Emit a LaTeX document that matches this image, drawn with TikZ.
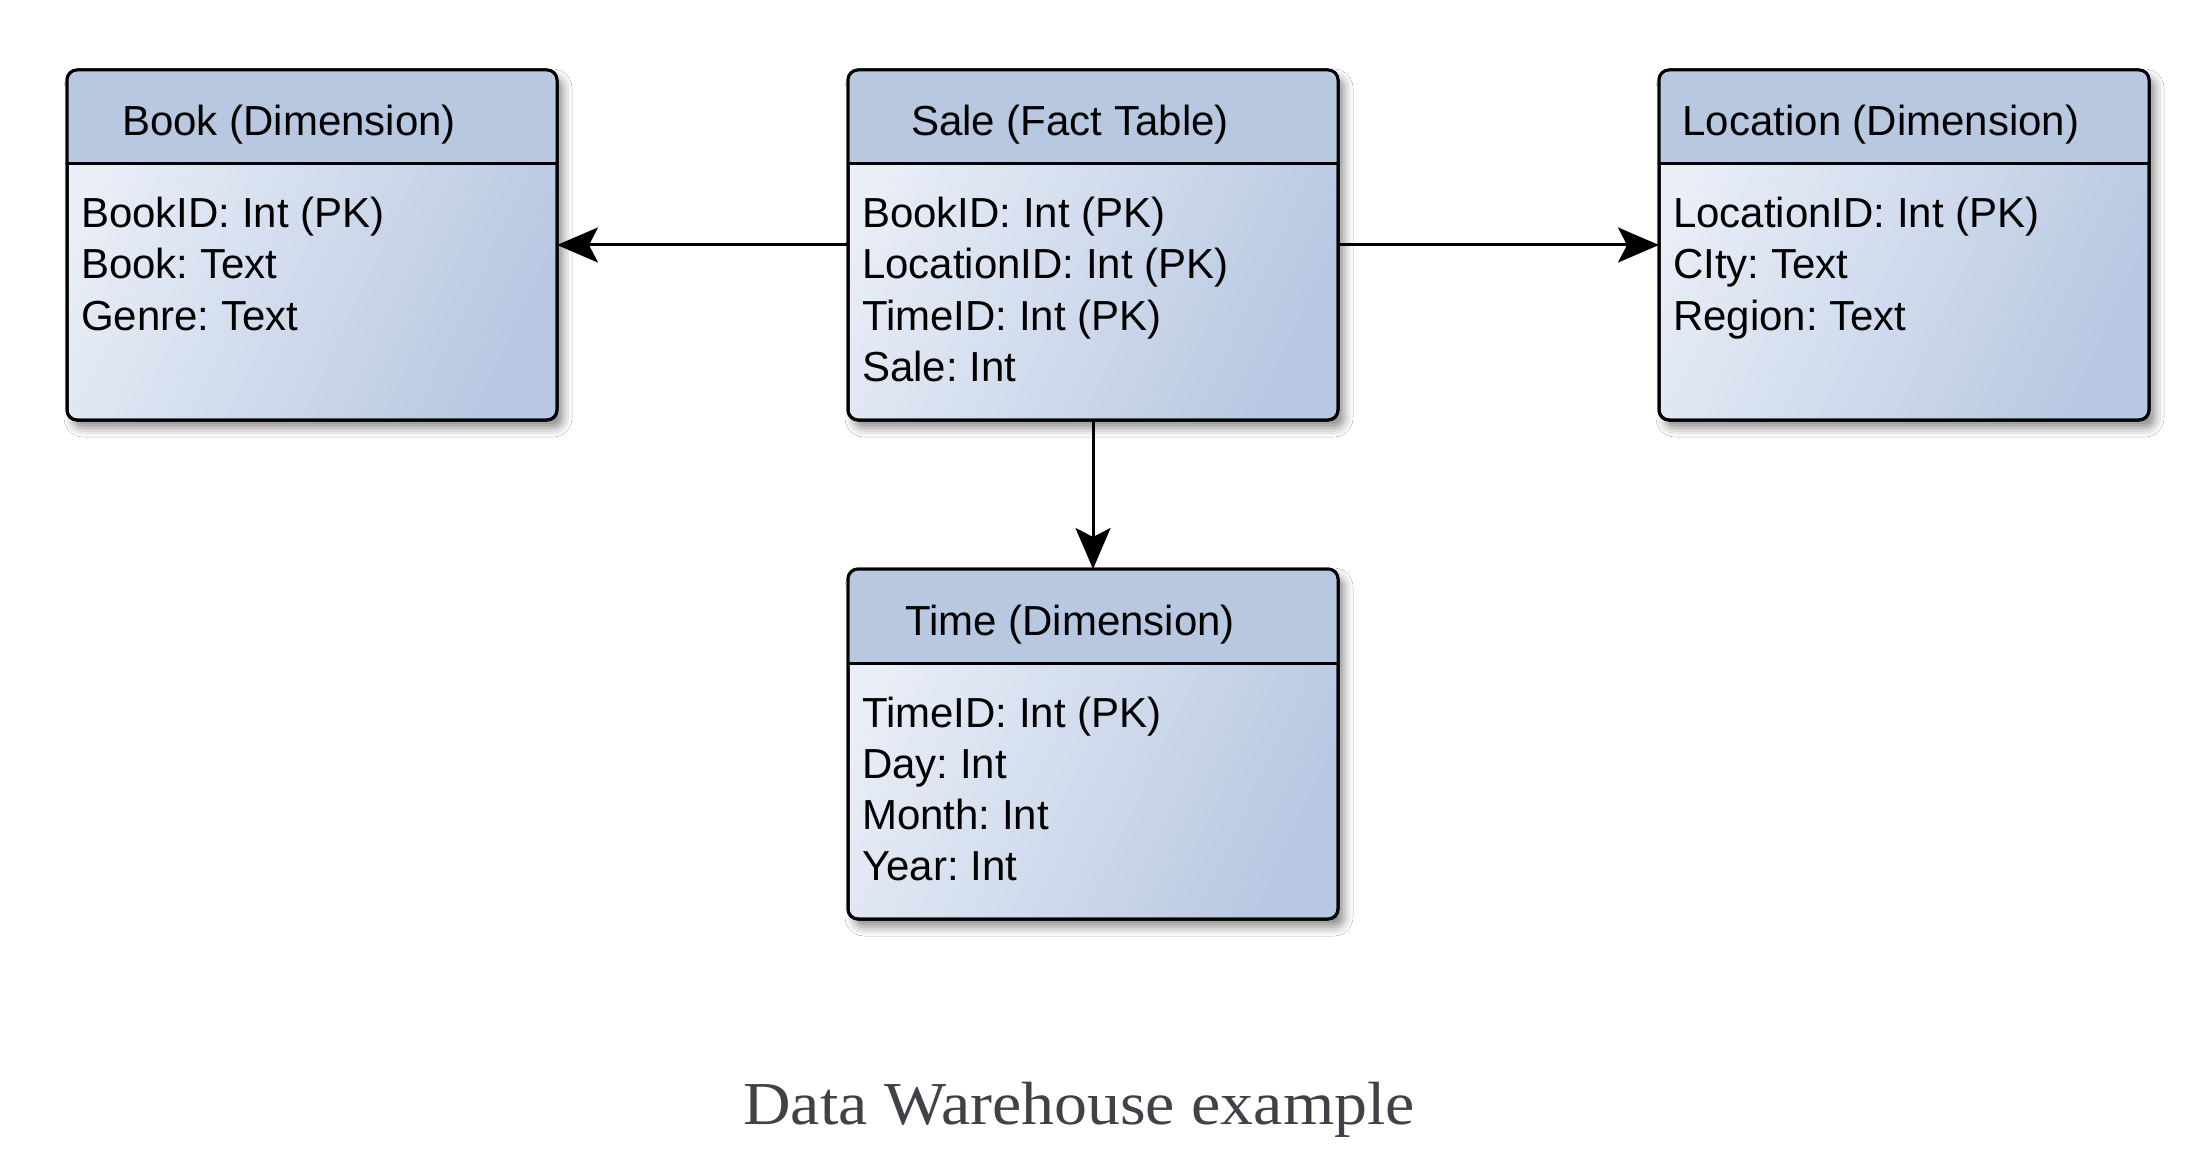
\documentclass[tikz,border=0pt]{standalone}
\usepackage{fontspec}
\setmainfont{Liberation Sans}
\newfontfamily\capfont[FakeStretch=1.08]{Liberation Serif}
\usetikzlibrary{arrows.meta,shadows.blur,fadings}
\definecolor{hdrblue}{HTML}{B8C8E1}
\definecolor{bodylight}{HTML}{E9EEF7}
\definecolor{bodydark}{HTML}{B8C8E2}
\definecolor{captiongray}{HTML}{404248}
\frenchspacing
\tikzset{
  tablebox/.style={rectangle, rounded corners=10pt, minimum width=490pt, minimum height=350pt,
    inner sep=0pt, outer sep=0pt, draw=black, line width=3pt,
    left color=bodylight, right color=bodydark, shading angle=65,
    blur shadow={shadow xshift=6pt, shadow yshift=-8pt, shadow blur radius=9pt, shadow opacity=45}},
  titletext/.style={font=\fontsize{42}{50}\selectfont, anchor=base, inner sep=0pt},
  fieldtext/.style={font=\fontsize{42}{50}\selectfont, anchor=base west, inner sep=0pt},
  boxline/.style={line width=3pt, draw=black},
  link/.style={line width=3pt, -{Stealth[length=41pt,width=35pt,inset=9pt]}},
}
\newcommand\dwtable[5]{%
  \node[tablebox] (#1) at (#2,#3) {};
  \begin{scope}
    \clip[rounded corners=10pt] (#1.north west) rectangle (#1.south east);
    \fill[hdrblue] (#1.north west) rectangle ([yshift=-94pt]#1.north east);
  \end{scope}
  \draw[boxline] ([yshift=-94pt]#1.north west) -- ([yshift=-94pt]#1.north east);
  \draw[boxline, rounded corners=10pt] (#1.north west) rectangle (#1.south east);
  \node[titletext] (#1-title) at ([xshift=-23pt,yshift=-66pt]#1.north) {#4};
  \foreach \f [count=\i] in {#5} {
    \node[fieldtext] (#1-f\i) at ([xshift=14pt,yshift={-158pt-(\i-1)*51pt}]#1.north west) {\f};
  }
}
\begin{document}
\begin{tikzpicture}[x=1pt,y=-1pt]
  \fill[white] (0,0) rectangle (2194,1150);
  \useasboundingbox (0,0) rectangle (2194,1150);
  \dwtable{book}{312}{245}{Book (Dimension)}{BookID: Int (PK),Book: Text,Genre: Text}
  \dwtable{sale}{1093}{245}{Sale (Fact Table)}{BookID: Int (PK),LocationID: Int (PK),TimeID: Int (PK),Sale: Int}
  \dwtable{location}{1904}{245}{Location (Dimension)}{LocationID: Int (PK),CIty: Text,Region: Text}
  \dwtable{time}{1093}{744}{Time (Dimension)}{TimeID: Int (PK),Day: Int,Month: Int,Year: Int}
  \draw[link] (sale.west) -- (book.east);
  \draw[link] (sale.east) -- (location.west);
  \draw[link] (sale.south) -- (time.north);
  \node[font=\capfont\fontsize{61}{72}\selectfont, text=captiongray, anchor=base, inner sep=0pt] (caption) at (1079,1124) {Data Warehouse example};
\end{tikzpicture}
\end{document}
